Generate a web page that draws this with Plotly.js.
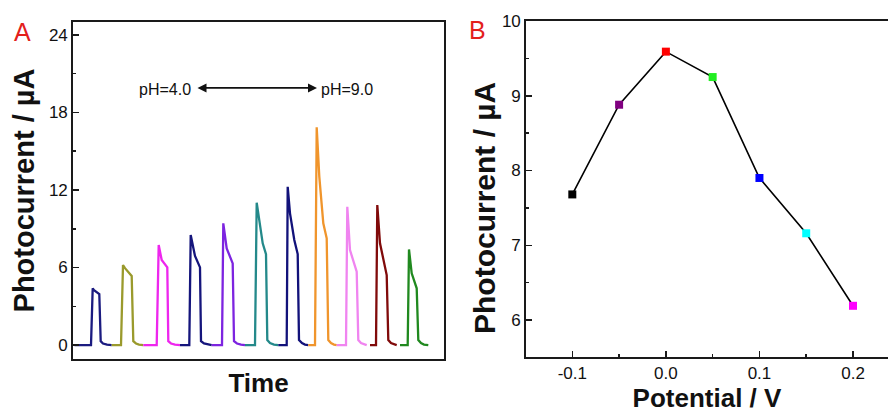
<!DOCTYPE html>
<html>
<head>
<meta charset="utf-8">
<script src="https://cdn.plot.ly/plotly-3.0.1.min.js"></script>
<style>html,body{margin:0;padding:0;background:#fff}#chart{width:888px;height:414px}</style>
</head>
<body>
<div id="chart"></div>
<script>
// ---- Panel A: photocurrent pulses (time in arbitrary units, current in µA)
const t1 = [1.5, 18, 19.7, 21, 26.3, 27.7, 30, 34, 38.7];
const i1 = [0, 0, 4.39, 4.25, 3.95, 0.3, 0.12, 0.03, 0];
const t2 = [38.7, 48, 50, 52, 58.7, 60.3, 63, 66, 70.3];
const i2 = [0, 0, 6.19, 5.95, 5.34, 0.3, 0.12, 0.03, 0];
const t3 = [70.3, 83.7, 85.7, 88.7, 94.3, 95.3, 98, 102, 107];
const i3 = [0, 0, 7.74, 6.58, 6.01, 0.3, 0.12, 0.03, 0];
const t4 = [107, 116.3, 117.7, 122, 127, 128, 131, 135, 138.7];
const i4 = [0, 0, 8.51, 6.89, 6.01, 0.3, 0.12, 0.03, 0];
const t5 = [138.7, 149, 150.3, 153.7, 159.7, 161, 164, 168, 172];
const i5 = [0, 0, 9.42, 7.48, 6.32, 0.3, 0.12, 0.03, 0];
const t6 = [172, 182, 183.7, 186.3, 189.7, 193, 194.3, 197, 201, 205.3];
const i6 = [0, 0, 11.02, 9.67, 7.87, 7.04, 0.39, 0.15, 0.04, 0];
const t7 = [205.3, 213.7, 214.7, 217, 221.3, 224.7, 226, 229, 232, 235.3];
const i7 = [0, 0, 12.25, 10.19, 8.13, 7.04, 0.39, 0.15, 0.04, 0];
const t8 = [235.3, 242, 243.7, 246.3, 250.3, 253.7, 255.3, 258, 261, 263.7];
const i8 = [0, 0, 16.85, 13.03, 9.42, 8.26, 0.39, 0.15, 0.04, 0];
const t9 = [263.7, 273, 274.3, 277, 283.7, 285.3, 288, 291, 293.7];
const i9 = [0, 0, 10.7, 7.35, 5.67, 0.39, 0.15, 0.04, 0];
const t10 = [297, 303, 304.3, 307, 313.7, 315.3, 318, 321, 323.7];
const i10 = [0, 0, 10.84, 7.87, 5.42, 0.39, 0.15, 0.04, 0];
const t11 = [327, 334.7, 336, 338.7, 343.7, 345.3, 348, 351, 355.3];
const i11 = [0, 0, 7.4, 5.55, 4.39, 0.39, 0.15, 0.04, 0];
const pulseColors = ['#1b1b80', '#9a9a2c', '#ee26ee', '#15157c', '#7d24e0', '#24898a',
                     '#12127a', '#f0952c', '#f084f0', '#800a0a', '#20891f'];

// ---- Panel B: photocurrent vs potential
const potential = [-0.1, -0.05, 0.0, 0.05, 0.1, 0.15, 0.2];
const current = [7.68, 8.88, 9.59, 9.25, 7.90, 7.16, 6.19];
const pointColors = ['#000000', '#800080', '#ff0000', '#22ee22', '#0000ff', '#00ffff', '#ff00ff'];
const bTickVals = [-0.1, 0.0, 0.1, 0.2];
const bTickText = ['-0.1', '0.0', '0.1', '0.2'];

// ---- Annotation content
const phLeft = {text: 'pH=4.0', t: 92, i: 19.8};
const phRight = {text: 'pH=9.0', t: 274, i: 19.8};
const arrowSpan = {t0: 123, t1: 244, i: 19.9};
const yTitle = 'Photocurrent / µA';

const FONT = 'Arial, "Liberation Sans", sans-serif';
const ts = [t1,t2,t3,t4,t5,t6,t7,t8,t9,t10,t11];
const is = [i1,i2,i3,i4,i5,i6,i7,i8,i9,i10,i11];

const traces = ts.map((t, k) => ({
  x: t, y: is[k], type: 'scatter', mode: 'lines',
  line: {color: pulseColors[k], width: 2.3},
  xaxis: 'x', yaxis: 'y', hoverinfo: 'x+y'
}));
traces.push({
  x: potential, y: current, type: 'scatter', mode: 'lines+markers',
  line: {color: '#000', width: 1.6},
  marker: {symbol: 'square', size: 8, color: pointColors, line: {width: 0}},
  xaxis: 'x2', yaxis: 'y2'
});

const axLine = {showline: true, linecolor: '#1a1a1a', linewidth: 1.8, showgrid: false, zeroline: false};
const tickFont = {family: FONT, size: 17, color: '#111'};

const layout = {
  width: 888, height: 414,
  margin: {l: 0, r: 0, t: 0, b: 0},
  paper_bgcolor: '#fff', plot_bgcolor: '#fff',
  showlegend: false,
  font: {family: FONT, color: '#111'},
  xaxis: Object.assign({}, axLine, {
    domain: [73/888, 444/888], anchor: 'y', range: [0, 371],
    showticklabels: false, ticks: '', mirror: true,
    title: {text: '<b>Time</b>', font: {family: FONT, size: 26, color: '#111'}, standoff: 14}
  }),
  yaxis: Object.assign({}, axLine, {
    domain: [1 - 359/414, 1 - 22/414], anchor: 'x', range: [-1.08, 25.0],
    tick0: 0, dtick: 6, ticks: 'inside', ticklen: 6, tickwidth: 1.5, tickcolor: '#1a1a1a',
    minor: {ticks: 'inside', ticklen: 3, dtick: 3, tickwidth: 1.5, tickcolor: '#1a1a1a'},
    tickfont: tickFont, mirror: true,
    title: {text: '<b>' + yTitle + '</b>', font: {family: FONT, size: 29, color: '#111'}, standoff: 6}
  }),
  xaxis2: Object.assign({}, axLine, {
    domain: [526/888, 1], anchor: 'y2', range: [-0.1495, 0.2374],
    tickvals: bTickVals, ticktext: bTickText,
    ticks: 'inside', ticklen: 6, tickwidth: 1.5, tickcolor: '#1a1a1a',
    minor: {ticks: 'inside', ticklen: 3, dtick: 0.05, tick0: 0, tickwidth: 1.5, tickcolor: '#1a1a1a'},
    tickfont: tickFont, mirror: true,
    title: {text: '<b>Potential / V</b>', font: {family: FONT, size: 26, color: '#111'}, standoff: 3}
  }),
  yaxis2: Object.assign({}, axLine, {
    domain: [1 - 357/414, 1 - 21/414], anchor: 'x2', range: [5.505, 10],
    tick0: 6, dtick: 1, ticks: 'inside', ticklen: 6, tickwidth: 1.5, tickcolor: '#1a1a1a',
    minor: {ticks: 'inside', ticklen: 3, dtick: 0.5, tickwidth: 1.5, tickcolor: '#1a1a1a'},
    tickfont: tickFont, mirror: false
  }),
  annotations: [
    {xref: 'x', yref: 'y', x: phLeft.t, y: phLeft.i, text: phLeft.text, showarrow: false,
     font: {family: FONT, size: 16, color: '#111'}},
    {xref: 'x', yref: 'y', x: phRight.t, y: phRight.i, text: phRight.text, showarrow: false,
     font: {family: FONT, size: 16, color: '#111'}},
    {xref: 'x', yref: 'y', axref: 'x', ayref: 'y', x: arrowSpan.t1, y: arrowSpan.i,
     ax: arrowSpan.t0, ay: arrowSpan.i, text: '', showarrow: true,
     arrowhead: 2, startarrowhead: 2, arrowside: 'end+start', arrowsize: 1, startarrowsize: 1,
     arrowwidth: 1.8, arrowcolor: '#111', standoff: 0, startstandoff: 0},
    {xref: 'paper', yref: 'paper', x: 22/888, y: 1 - 32/414, xanchor: 'center', yanchor: 'middle',
     text: 'A', showarrow: false, font: {family: FONT, size: 25, color: '#e3201b'}},
    {xref: 'paper', yref: 'paper', x: 477/888, y: 1 - 30/414, xanchor: 'center', yanchor: 'middle',
     text: 'B', showarrow: false, font: {family: FONT, size: 25, color: '#e3201b'}},
    // y-axis title of panel B (placed as in the reference, slightly below the plot centre)
    {xref: 'paper', yref: 'paper', x: 484/888, y: 1 - 208/414, xanchor: 'center', yanchor: 'middle',
     textangle: -90, text: '<b>' + yTitle + '</b>', showarrow: false,
     font: {family: FONT, size: 30, color: '#111'}}
  ]
};

Plotly.newPlot('chart', traces, layout, {displayModeBar: false, staticPlot: true});
</script>
</body>
</html>
